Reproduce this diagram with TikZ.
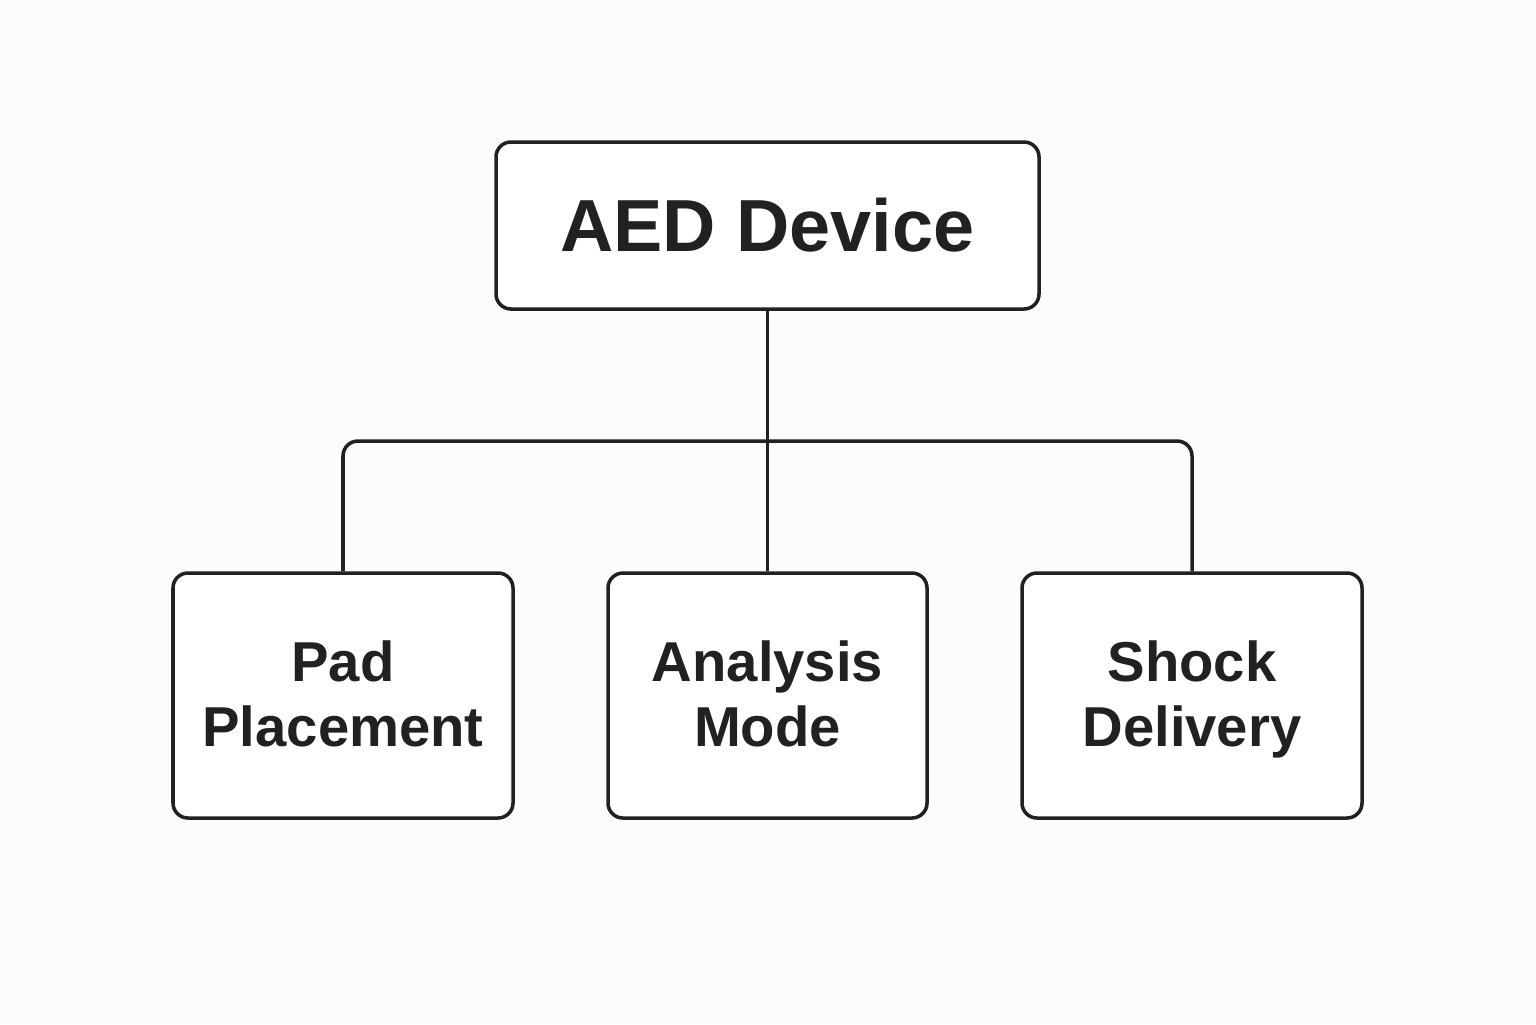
\documentclass[tikz,border=0pt]{standalone}
\usepackage{fontspec}
\setmainfont{Liberation Sans}
\usetikzlibrary{calc}

\definecolor{ink}{HTML}{1F2123}
\definecolor{paper}{HTML}{FCFCFA}
\newcommand{\topstrut}{\rule{0pt}{32pt}}

\begin{document}
\begin{tikzpicture}[
    box/.style={draw=ink, line width=2pt, rounded corners=0.3cm, fill=white, align=center, text=ink, font=\bfseries},
    step box/.style={box, minimum width=6.8cm, minimum height=4.9cm, font=\bfseries\fontsize{32}{37}\selectfont},
    link/.style={draw=ink, line width=2pt, rounded corners=0.3cm}
  ]
    \fill[paper] (0,0) rectangle (30.72,-20.48);
    \useasboundingbox (0,0) rectangle (30.72,-20.48);

    \node[box, minimum width=10.86cm, minimum height=3.34cm, font=\bfseries\fontsize{42}{48}\selectfont] (aed) at (15.35,-4.51) {AED Device};

    \node[step box] (pad) at (6.86,-13.91) {\topstrut Pad\\\strut Placement};
    \node[step box, minimum width=6.38cm] (analysis) at (15.35,-13.91) {\topstrut Analysis\\\strut Mode};
    \node[step box] (shock) at (23.84,-13.91) {\topstrut Shock\\\strut Delivery};

    \coordinate (bus) at (15.35,-8.82);
    \draw[link] (aed.south) -- (analysis.north);
    \draw[link] (pad.north) |- (bus) -| (shock.north);
  \end{tikzpicture}
\end{document}
